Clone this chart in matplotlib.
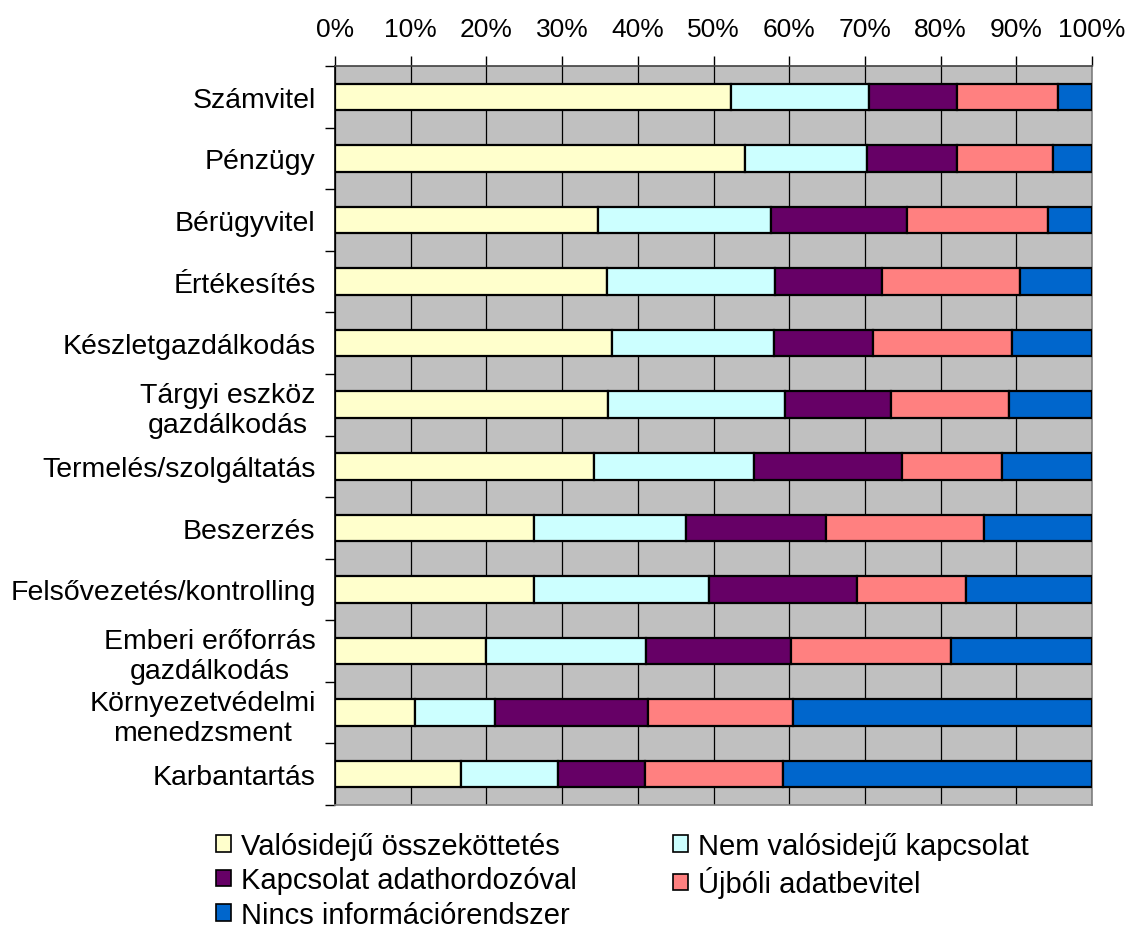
import numpy as np
import matplotlib
matplotlib.use('Agg')
import matplotlib.pyplot as plt
from matplotlib.patches import Patch

plt.rcParams['font.family'] = ['Liberation Sans', 'DejaVu Sans']

categories = ['Számvitel', 'Pénzügy', 'Bérügyvitel', 'Értékesítés',
              'Készletgazdálkodás', 'Tárgyi eszköz\ngazdálkodás',
              'Termelés/szolgáltatás', 'Beszerzés',
              'Felsővezetés/kontrolling', 'Emberi erőforrás\ngazdálkodás',
              'Környezetvédelmi\nmenedzsment', 'Karbantartás']

series = ['Valósidejű összeköttetés', 'Nem valósidejű kapcsolat',
          'Kapcsolat adathordozóval', 'Újbóli adatbevitel',
          'Nincs információrendszer']

valos = [52.3, 54.1, 34.8, 35.9, 36.6, 36.0, 34.2, 26.3, 26.3, 20.0, 10.6, 16.7]
nem_valos = [18.3, 16.2, 22.8, 22.2, 21.4, 23.4, 21.2, 20.1, 23.1, 21.1, 10.6, 12.7]
adathordozo = [11.6, 11.9, 18.0, 14.1, 13.1, 14.1, 19.5, 18.4, 19.6, 19.2, 20.2, 11.5]
ujboli = [13.3, 12.7, 18.6, 18.3, 18.3, 15.6, 13.2, 20.9, 14.3, 21.1, 19.1, 18.3]
nincs = [4.5, 5.1, 5.8, 9.5, 10.6, 10.9, 11.9, 14.3, 16.7, 18.6, 39.5, 40.8]

colors = ['#FFFFCC', '#CCFFFF', '#660066', '#FF8080', '#0066CC']

data = np.array([valos, nem_valos, adathordozo, ujboli, nincs])
data = data / data.sum(axis=0) * 100

fig = plt.figure(figsize=(11.37, 9.29), dpi=100)
ax = fig.add_axes([335/1137, 1-806/929, 757/1137, (806-67)/929])
ax.set_facecolor('#C0C0C0')

y = np.arange(len(categories))
left = np.zeros(len(categories))
for i in range(len(series)):
    ax.barh(y, data[i], left=left, height=0.43, color=colors[i],
            edgecolor='black', linewidth=1.6, zorder=3)
    left += data[i]

ax.set_xlim(0, 100)
ax.set_ylim(len(categories)-0.5, -0.5)

# x axis on top
ax.xaxis.tick_top()
ax.set_xticks(np.arange(0, 101, 10))
ax.set_xticklabels([f'{v}%' for v in range(0, 101, 10)])
ax.tick_params(axis='x', direction='out', length=7, width=1, pad=11,
               labelsize=19, color='black')
ax.grid(axis='x', color='black', linewidth=0.9, zorder=1)

# category ticks at boundaries, labels at centers
ax.set_yticks(np.arange(-0.5, len(categories), 1))
ax.set_yticklabels([])
ax.set_yticks(y, minor=True)
ax.set_yticklabels(categories, minor=True, multialignment='center')
ax.tick_params(axis='y', which='major', direction='out', length=7, width=1)
ax.tick_params(axis='y', which='minor', length=0, pad=14, labelsize=20.5)

ax.spines['left'].set_color('black')
ax.spines['top'].set_color('#404040')
ax.spines['right'].set_color('#808080')
ax.spines['bottom'].set_color('#808080')
for s in ax.spines.values():
    s.set_linewidth(1.2)

handles = [Patch(facecolor=c, edgecolor='black', linewidth=1.2) for c in colors]
order = [0, 2, 4, 1, 3]
fig.legend([handles[i] for i in order], [series[i] for i in order],
           ncol=2, frameon=False, fontsize=21,
           loc='upper left', bbox_to_anchor=(216/1137, 1-833/929),
           handlelength=0.5, handleheight=0.5, handletextpad=0.35,
           labelspacing=0.22, columnspacing=3.3, borderaxespad=0, borderpad=0)

fig.savefig('out.png', dpi=100)
